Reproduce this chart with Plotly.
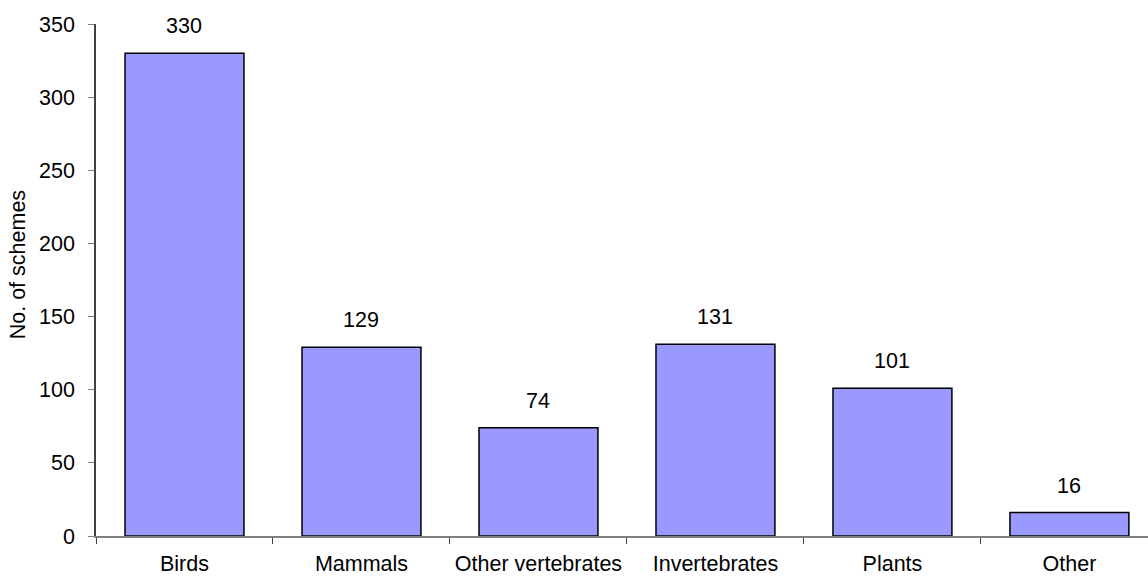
import plotly.graph_objects as go

# Number of schemes per taxonomic group
groups = ["Birds", "Mammals", "Other vertebrates", "Invertebrates", "Plants", "Other"]
schemes = [330, 129, 74, 131, 101, 16]
y_ticks = [0, 50, 100, 150, 200, 250, 300, 350]

FONT = "Liberation Sans, Arial, sans-serif"
FS = 21.5

fig = go.Figure()
fig.add_trace(go.Bar(
    x=groups,
    y=schemes,
    width=0.672,
    marker=dict(color="#9999FF", line=dict(color="#000000", width=1.5)),
    hoverinfo="x+y",
))

# Value labels floating above each bar
for g, v in zip(groups, schemes):
    fig.add_annotation(
        x=g, y=v, text=str(v), showarrow=False,
        yanchor="bottom", yshift=13,
        font=dict(family=FONT, size=FS, color="#000000"),
    )

# Rotated y-axis title
fig.add_annotation(
    xref="paper", yref="paper", x=-0.0745, y=0.53,
    text="No. of schemes", showarrow=False, textangle=-90,
    xanchor="center", yanchor="middle",
    font=dict(family=FONT, size=FS, color="#000000"),
)

fig.update_layout(
    width=1148, height=577,
    margin=dict(l=96, r=0, t=24, b=41, autoexpand=False),
    plot_bgcolor="#FFFFFF", paper_bgcolor="#FFFFFF",
    font=dict(family=FONT, size=FS, color="#000000"),
    showlegend=False,
)
fig.update_xaxes(
    type="category",
    range=[-0.5, 5.444],
    automargin=False,
    showline=True, linecolor="#808080", linewidth=1.5,
    ticks="outside", tickson="boundaries", ticklen=6, tickcolor="#404040",
    ticklabelstandoff=7,
    showgrid=False, zeroline=False,
)
fig.update_yaxes(
    range=[0, 350],
    tickvals=y_ticks,
    automargin=False,
    showline=True, linecolor="#404040", linewidth=1.5,
    ticks="outside", ticklen=6, tickcolor="#808080",
    ticklabelstandoff=9,
    showgrid=False, zeroline=False,
)

fig.write_html("out.html")
